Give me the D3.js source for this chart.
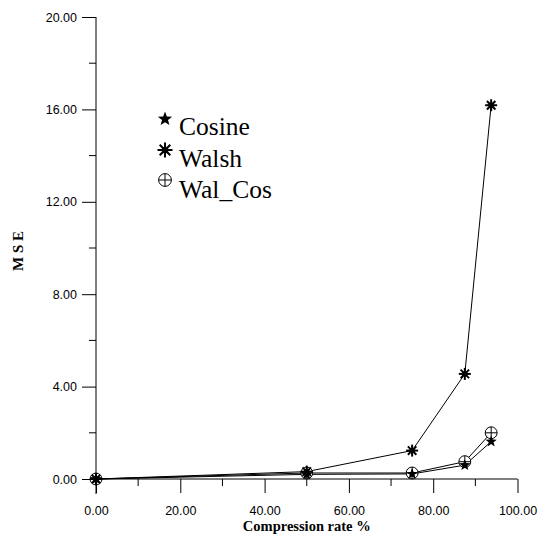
<!DOCTYPE html>
<html><head><meta charset="utf-8">
<script src="https://cdn.jsdelivr.net/npm/d3@7"></script>
<style>body{margin:0;background:#fff}svg{display:block}
.serif{font-family:"Liberation Serif","Times New Roman",Times,"DejaVu Serif",serif}
.sans{font-family:"Liberation Sans",Arial,Helvetica,sans-serif}
</style>
</head><body>
<svg id="c" width="539" height="537"></svg>
<script>
const xValues = [0, 50, 75, 87.5, 93.75];
const cosine = [0, 0.2, 0.22, 0.6, 1.62];
const walsh = [0, 0.32, 1.23, 4.55, 16.18];
const walCos = [0, 0.26, 0.26, 0.75, 2.0];
const seriesNames = ["Cosine", "Walsh", "Wal_Cos"];
const xTicks = [0, 20, 40, 60, 80, 100];
const yTicks = [0, 4, 8, 12, 16, 20];
const xTitle = "Compression rate %";
const yTitle = "M S E";

const svg = d3.select("#c");
const x = d3.scaleLinear().domain([0, 100]).range([96, 517.5]);
const y = d3.scaleLinear().domain([0, 20]).range([479, 17]);

// axes
const xAxis = d3.axisBottom(x).tickValues(xTicks).tickSize(14).tickFormat(d3.format(".2f"));
const gx = svg.append("g").attr("transform", "translate(0,479)").call(xAxis);
gx.select(".domain").attr("d", `M${x(0)},0H${x(100)}`);
const xMinor = d3.range(10, 100, 20);
gx.selectAll(".minor").data(xMinor).enter().append("line")
  .attr("x1", d => x(d)).attr("x2", d => x(d)).attr("y1", 0).attr("y2", 7).attr("stroke", "#000");

const yAxis = d3.axisLeft(y).tickValues(yTicks).tickSize(14).tickFormat(d3.format(".2f"));
const gy = svg.append("g").attr("transform", "translate(96,0)").call(yAxis);
gy.select(".domain").attr("d", `M0,${y(20)}V${y(0) + 15}`);
const yMinor = d3.range(2, 20, 4);
gy.selectAll(".minor").data(yMinor).enter().append("line")
  .attr("y1", d => y(d)).attr("y2", d => y(d)).attr("x1", 0).attr("x2", -7).attr("stroke", "#000");

[gx, gy].forEach(g => {
  g.attr("font-family", null).attr("font-size", null);
  g.selectAll("text").attr("class", "sans").attr("font-size", 12.5).attr("fill", "#000");
  g.selectAll("path,line").attr("stroke", "#000");
});
gx.selectAll(".tick text").attr("dy", null).attr("y", 36);
gy.selectAll(".tick text").attr("x", -19);

svg.append("text").attr("class", "serif").attr("x", x(50)).attr("y", 531).attr("text-anchor", "middle")
  .attr("font-weight", "bold").attr("font-size", 14.5)
  .text(xTitle);
svg.append("text").attr("class", "serif").attr("transform", "translate(23,251) rotate(-90)").attr("text-anchor", "middle")
  .attr("font-weight", "bold").attr("font-size", 15)
  .text(yTitle);

// symbols
function starPath(r) {
  const pts = [];
  for (let i = 0; i < 10; i++) {
    const a = -Math.PI / 2 + i * Math.PI / 5;
    const rr = i % 2 === 0 ? r : r * 0.42;
    pts.push([rr * Math.cos(a), rr * Math.sin(a)]);
  }
  return "M" + pts.map(p => p.join(",")).join("L") + "Z";
}
function drawSymbol(g, type, cx, cy, s) {
  const gg = g.append("g").attr("transform", `translate(${cx},${cy})`);
  if (type === 0) {
    gg.append("path").attr("d", starPath(s)).attr("fill", "#000");
  } else if (type === 1) {
    for (let i = 0; i < 4; i++) {
      const a = i * Math.PI / 4;
      gg.append("line").attr("x1", -s * Math.cos(a)).attr("y1", -s * Math.sin(a))
        .attr("x2", s * Math.cos(a)).attr("y2", s * Math.sin(a))
        .attr("stroke", "#000").attr("stroke-width", 2);
    }
    gg.append("circle").attr("r", s * 0.45).attr("fill", "#000");
  } else {
    gg.append("circle").attr("r", s * 0.85).attr("fill", "#fff").attr("stroke", "#000").attr("stroke-width", 1);
    gg.append("line").attr("x1", -s * 0.85).attr("x2", s * 0.85).attr("stroke", "#000");
    gg.append("line").attr("y1", -s * 0.85).attr("y2", s * 0.85).attr("stroke", "#000");
  }
}

const series = [cosine, walsh, walCos];
const line = d3.line().x((d, i) => x(xValues[i])).y(d => y(d));
series.forEach(s => {
  svg.append("path").datum(s).attr("d", line).attr("fill", "none").attr("stroke", "#000").attr("stroke-width", 1);
});
const gs = svg.append("g");
[2, 1, 0].forEach(k => {
  series[k].forEach((v, i) => drawSymbol(gs, k, x(xValues[i]), y(v), k === 2 ? 7 : 6));
});

// legend
const lg = svg.append("g");
const legY = [135, 167, 198];
const symY = [119, 150, 180];
seriesNames.forEach((n, i) => {
  drawSymbol(lg, i, 165, symY[i], 7.5);
  lg.append("text").attr("class", "serif").attr("x", 179).attr("y", legY[i])
    .attr("font-size", 25.5).text(n);
});
</script>
</body></html>
